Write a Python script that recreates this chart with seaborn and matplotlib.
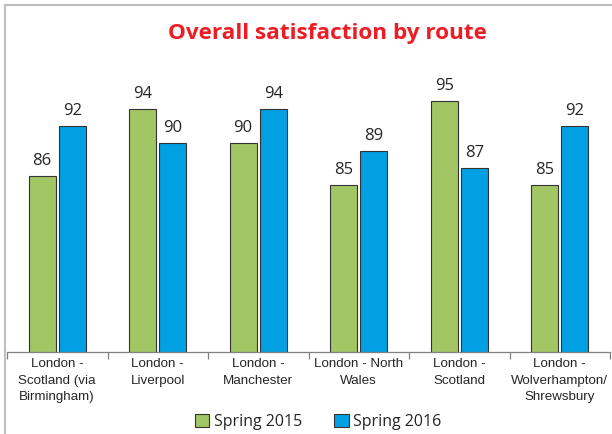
import pandas as pd
import matplotlib.pyplot as plt
import seaborn as sns
from matplotlib.lines import Line2D
from matplotlib.patches import Patch

routes = ['London -\nScotland (via\nBirmingham)', 'London -\nLiverpool', 'London -\nManchester',
          'London - North\nWales', 'London -\nScotland', 'London -\nWolverhampton/\nShrewsbury']
spring_2015 = [86, 94, 90, 85, 95, 85]
spring_2016 = [92, 90, 94, 89, 87, 92]
seasons = ['Spring 2015', 'Spring 2016']
colores = ['#A2C663', '#00A0E3']

df = pd.DataFrame({
    'route': routes * 2,
    'season': [seasons[0]] * len(routes) + [seasons[1]] * len(routes),
    'score': spring_2015 + spring_2016,
})

sns.set_theme(style='white')
fig = plt.figure(figsize=(6.12, 4.34), dpi=100)
ax = fig.add_axes([7 / 612, 1 - 352 / 434, 603 / 612, 293 / 434])

sns.barplot(data=df, x='route', y='score', hue='season', palette=colores, saturation=1,
            width=0.6, gap=0.1, edgecolor='#333333', linewidth=0.8, ax=ax, legend=False)

# etiquetas de valores encima de cada barra
for cont in ax.containers:
    ax.bar_label(cont, padding=5, fontsize=12, color='#262626', family='Open Sans')

ax.set_ylim(65, 100)
ax.set_xlim(-0.5, len(routes) - 0.5)
ax.set_yticks([])
ax.set_xlabel('')
ax.set_ylabel('')
for s in ['top', 'right', 'left']:
    ax.spines[s].set_visible(False)
ax.spines['bottom'].set_color('#808080')
ax.spines['bottom'].set_linewidth(0.9)

# separadores entre categorías
ax.set_xticks([i + 0.5 for i in range(-1, len(routes))], minor=True)
ax.tick_params(axis='x', which='minor', length=5, color='#808080', width=0.9, bottom=True)
ax.tick_params(axis='x', which='major', length=0, pad=4)
ax.set_xticks(range(len(routes)))
ax.set_xticklabels(routes, fontsize=9.6, family='Liberation Sans', color='#262626', linespacing=1.55)

fig.text(0.535, 0.922, 'Overall satisfaction by route', ha='center', va='center',
         fontsize=16.2, fontweight='bold', color='#EE1C25', family='Open Sans')

handles = [Patch(facecolor=c, edgecolor='#333333', linewidth=0.8) for c in colores]
fig.legend(handles, seasons, loc='center', bbox_to_anchor=(0.52, 0.028), ncol=2, frameon=False,
           prop={'family': 'Open Sans', 'size': 11.5}, handlelength=0.9, handleheight=0.9,
           handletextpad=0.3, columnspacing=2.0)

# marco gris del gráfico
fig.add_artist(Line2D([5 / 612, 1], [1 - 5 / 434, 1 - 5 / 434], color='#BFBFBF', lw=1.5))
fig.add_artist(Line2D([5 / 612, 5 / 612], [0, 1 - 5 / 434], color='#BFBFBF', lw=1.5))

fig.savefig('out.png', dpi=100)
